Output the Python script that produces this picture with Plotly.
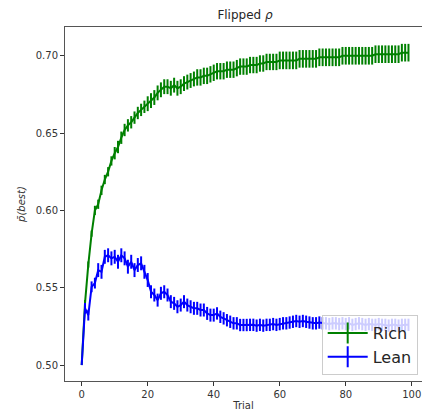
import plotly.graph_objects as go

trials = list(range(100))

rich = [0.500, 0.540, 0.565, 0.585, 0.600, 0.604, 0.613, 0.620, 0.625, 0.632,
        0.637, 0.641, 0.647, 0.652, 0.655, 0.657, 0.660, 0.663, 0.665, 0.667,
        0.669, 0.671, 0.673, 0.676, 0.678, 0.680, 0.680, 0.679, 0.681, 0.679,
        0.680, 0.682, 0.683, 0.684, 0.685, 0.686, 0.686, 0.687, 0.687, 0.688,
        0.689, 0.690, 0.690, 0.690, 0.691, 0.691, 0.691, 0.692, 0.693, 0.693,
        0.693, 0.694, 0.694, 0.694, 0.695, 0.695, 0.696, 0.696, 0.696, 0.696,
        0.697, 0.697, 0.697, 0.697, 0.697, 0.697, 0.698, 0.698, 0.698, 0.698,
        0.698, 0.698, 0.699, 0.699, 0.699, 0.699, 0.699, 0.699, 0.699, 0.700,
        0.700, 0.700, 0.700, 0.700, 0.700, 0.700, 0.700, 0.700, 0.700, 0.701,
        0.701, 0.701, 0.701, 0.701, 0.701, 0.701, 0.701, 0.702, 0.702, 0.702]

rich_err = [0.000, 0.002, 0.002, 0.002, 0.003, 0.003, 0.003, 0.003, 0.003, 0.003,
            0.004, 0.004, 0.004, 0.004, 0.004, 0.004, 0.004, 0.004, 0.004, 0.004,
            0.0048, 0.0048, 0.0048, 0.0048, 0.0048, 0.0048, 0.0048, 0.0048, 0.0048, 0.0048,
            0.0048, 0.0048, 0.0048, 0.0048, 0.0048, 0.0053, 0.0053, 0.0053, 0.0053, 0.0053,
            0.0053, 0.0053, 0.0053, 0.0053, 0.0053, 0.0053, 0.0053, 0.0053, 0.0053, 0.0053,
            0.0053, 0.0053, 0.0053, 0.0053, 0.0053, 0.0053, 0.0053, 0.0053, 0.0053, 0.0053,
            0.0057, 0.0057, 0.0057, 0.0057, 0.0057, 0.0057, 0.0057, 0.0057, 0.0057, 0.0057,
            0.0057, 0.0057, 0.0057, 0.0057, 0.0057, 0.0057, 0.0057, 0.0057, 0.0057, 0.0057,
            0.0057, 0.0057, 0.0057, 0.0057, 0.0057, 0.0057, 0.0057, 0.0057, 0.0057, 0.0057,
            0.0057, 0.0057, 0.0057, 0.0057, 0.0057, 0.0057, 0.0057, 0.0057, 0.0057, 0.0057]

lean = [0.500, 0.5367, 0.5323, 0.5506, 0.553, 0.5614, 0.5603, 0.570, 0.571, 0.569,
        0.570, 0.5668, 0.571, 0.569, 0.5636, 0.5668, 0.5614, 0.5647, 0.5658, 0.5603,
        0.555, 0.5474, 0.5453, 0.542, 0.5464, 0.5474, 0.5453, 0.541, 0.5399, 0.5377,
        0.5388, 0.541, 0.5388, 0.5377, 0.5367, 0.5367, 0.5356, 0.5356, 0.5334, 0.5323,
        0.5323, 0.5334, 0.5312, 0.5302, 0.529, 0.528, 0.527, 0.527, 0.5259, 0.5259,
        0.5259, 0.526, 0.526, 0.5255, 0.526, 0.5255, 0.526, 0.526, 0.5265, 0.526,
        0.5265, 0.527, 0.527, 0.5275, 0.528, 0.5285, 0.528, 0.5285, 0.528, 0.5275,
        0.527, 0.527, 0.5275, 0.527, 0.527, 0.5265, 0.527, 0.527, 0.5265, 0.527,
        0.5265, 0.527, 0.526, 0.5265, 0.527, 0.5265, 0.526, 0.5265, 0.526, 0.526,
        0.5265, 0.526, 0.526, 0.5255, 0.526, 0.526, 0.5255, 0.526, 0.526, 0.526]

lean_err = [0.000, 0.0035, 0.0035, 0.0035, 0.0035, 0.0045, 0.0045, 0.0045, 0.0045, 0.0045,
            0.0045, 0.0045, 0.0045, 0.0045, 0.0045, 0.0045, 0.0045, 0.0045, 0.0045, 0.0045,
            0.0045, 0.0042, 0.0042, 0.0042, 0.0042, 0.0042, 0.0042, 0.0042, 0.0042, 0.0042,
            0.0042, 0.0042, 0.0042, 0.0042, 0.0042, 0.0042, 0.0042, 0.0042, 0.0042, 0.0042,
            0.0042, 0.004, 0.004, 0.004, 0.004, 0.004, 0.004, 0.004, 0.004, 0.004,
            0.004, 0.004, 0.004, 0.004, 0.004, 0.004, 0.004, 0.004, 0.004, 0.004,
            0.004, 0.004, 0.004, 0.004, 0.004, 0.004, 0.004, 0.004, 0.004, 0.004,
            0.004, 0.004, 0.004, 0.004, 0.004, 0.004, 0.004, 0.004, 0.004, 0.004,
            0.004, 0.004, 0.004, 0.004, 0.004, 0.004, 0.004, 0.004, 0.004, 0.004,
            0.004, 0.004, 0.004, 0.004, 0.004, 0.004, 0.004, 0.004, 0.004, 0.004]

series_names = ["Rich", "Lean"]
series_colors = ["green", "blue"]
x_ticks = [0, 20, 40, 60, 80, 100]
y_ticks = [0.50, 0.55, 0.60, 0.65, 0.70]

fig = go.Figure()
for name, vals, errs, col in [("Rich", rich, rich_err, "green"), ("Lean", lean, lean_err, "blue")]:
    fig.add_trace(go.Scatter(
        x=trials, y=vals, mode="lines", name=name, showlegend=False,
        line=dict(color=col, width=2),
        error_y=dict(type="data", array=errs, visible=True, color=col, thickness=2, width=0),
    ))
for name, col in zip(series_names, series_colors):
    fig.add_trace(go.Scatter(
        x=[None], y=[None], mode="lines+markers", name=name,
        line=dict(color=col, width=2),
        marker=dict(symbol="line-ns", size=15, color=col, line=dict(color=col, width=2)),
    ))

font_family = "DejaVu Sans, Arial, sans-serif"
fig.update_layout(
    width=422, height=412,
    margin=dict(l=65, r=0, t=27, b=31, autoexpand=False),
    paper_bgcolor="white", plot_bgcolor="white",
    font=dict(family=font_family, size=10, color="#333333"),
    title=dict(text="Flipped <i>ρ</i>", x=(245 / 422), xanchor="center", y=1 - 15 / 412, yanchor="middle",
               font=dict(size=12, color="#262626")),
    showlegend=True,
    legend=dict(x=(321.7 - 65) / 357, y=(381 - 315) / 354, xanchor="left", yanchor="top",
                bgcolor="rgba(255,255,255,0.8)", bordercolor="#cccccc", borderwidth=1,
                font=dict(size=16, color="#262626"), itemwidth=40, tracegroupgap=0),
    xaxis=dict(range=[-5.06, 103.1], tickvals=x_ticks, ticks="outside", ticklen=4, tickcolor="#333",
               showline=True, linecolor="#555", linewidth=1, mirror=True, showgrid=False, zeroline=False,
               automargin=False,
               title=dict(text="Trial", standoff=2, font=dict(size=10))),
    yaxis=dict(range=[0.4897, 0.7186], tickvals=y_ticks, tickformat=".2f", ticks="outside", ticklen=4,
               tickcolor="#333", showline=True, linecolor="#555", linewidth=1, mirror=False,
               showgrid=False, zeroline=False, automargin=False,
               title=dict(text="<i>p̄(best)</i>", standoff=8, font=dict(size=10))),
)

fig.write_html("out.html", config={"displayModeBar": False},
               post_script="document.body.style.margin='0';document.body.style.overflow='hidden';")
